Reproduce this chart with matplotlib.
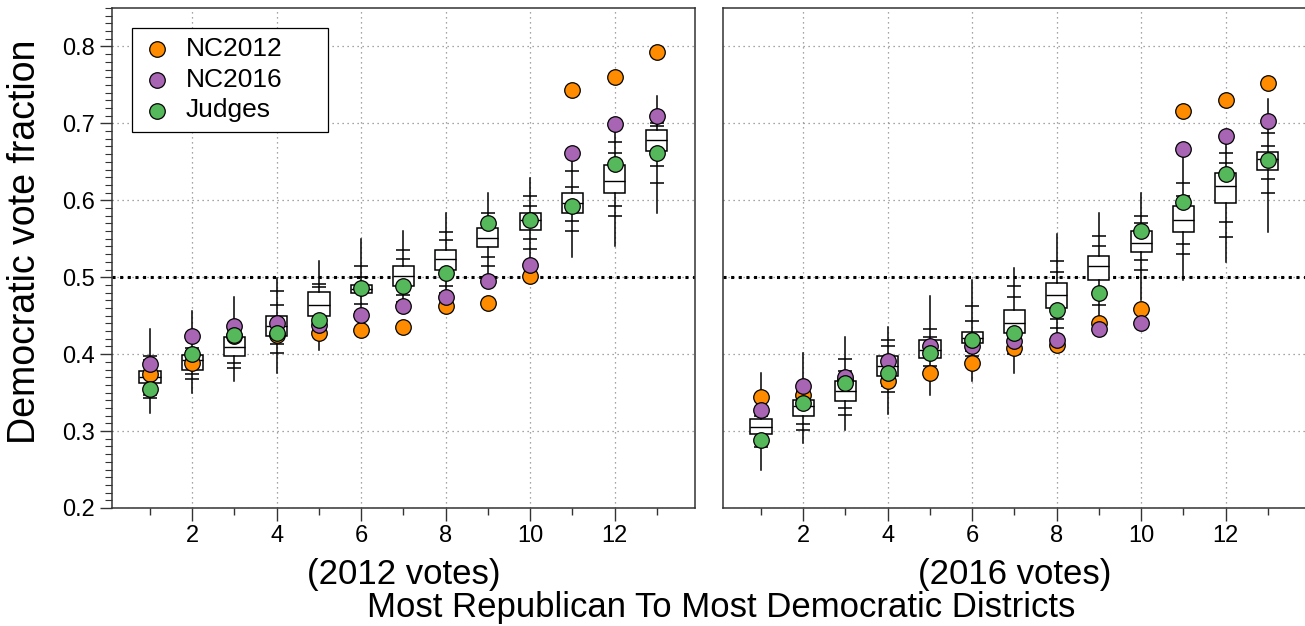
import numpy as np
import matplotlib
matplotlib.use("Agg")
import matplotlib.pyplot as plt
from matplotlib.ticker import MultipleLocator

plt.rcParams['font.family'] = ['Liberation Sans', 'DejaVu Sans']

districts = np.arange(1, 14)

# ensemble boxes, 2012 votes
q1_12 = [0.362, 0.380, 0.398, 0.424, 0.450, 0.479, 0.489, 0.510, 0.539, 0.562, 0.583, 0.609, 0.664]
med_12 = [0.370, 0.393, 0.409, 0.436, 0.464, 0.485, 0.501, 0.524, 0.551, 0.575, 0.596, 0.625, 0.678]
q3_12 = [0.378, 0.399, 0.422, 0.449, 0.481, 0.490, 0.514, 0.536, 0.564, 0.583, 0.610, 0.646, 0.692]
lo_12 = [0.323, 0.349, 0.365, 0.375, 0.405, 0.440, 0.455, 0.460, 0.500, 0.515, 0.526, 0.540, 0.583]
hi_12 = [0.433, 0.456, 0.474, 0.499, 0.521, 0.550, 0.560, 0.584, 0.610, 0.629, 0.655, 0.690, 0.735]
marks_hi_12 = [[0.393, 0.397], [0.404, 0.408], [0.434, 0.424], [0.482, 0.464], [0.491, 0.487],
               [0.514, 0.500], [0.536, 0.524], [0.559, 0.548], [0.583, 0.572], [0.605, 0.593],
               [0.638, 0.617], [0.676, 0.661], [0.700, 0.697]]
marks_lo_12 = [[0.347, 0.343], [0.374, 0.368], [0.388, 0.382], [0.413, 0.402], [0.440, 0.432],
               [0.465, 0.455], [0.477, 0.468], [0.488, 0.480], [0.526, 0.514], [0.550, 0.537],
               [0.573, 0.560], [0.592, 0.579], [0.645, 0.623]]

nc2012_12 = [0.374, 0.389, 0.424, 0.425, 0.427, 0.432, 0.435, 0.462, 0.467, 0.501, 0.744, 0.760, 0.793]
nc2016_12 = [0.387, 0.424, 0.437, 0.440, 0.438, 0.451, 0.463, 0.474, 0.495, 0.516, 0.662, 0.699, 0.710]
judges_12 = [0.355, 0.400, 0.425, 0.427, 0.445, 0.486, 0.488, 0.505, 0.571, 0.575, 0.592, 0.647, 0.661]

# ensemble boxes, 2016 votes
q1_16 = [0.296, 0.319, 0.339, 0.372, 0.395, 0.415, 0.427, 0.460, 0.497, 0.533, 0.559, 0.596, 0.640]
med_16 = [0.305, 0.332, 0.352, 0.384, 0.406, 0.421, 0.441, 0.477, 0.514, 0.545, 0.574, 0.618, 0.654]
q3_16 = [0.316, 0.341, 0.365, 0.398, 0.418, 0.429, 0.458, 0.493, 0.527, 0.560, 0.592, 0.636, 0.663]
lo_16 = [0.250, 0.284, 0.302, 0.322, 0.347, 0.365, 0.376, 0.415, 0.428, 0.471, 0.497, 0.520, 0.559]
hi_16 = [0.375, 0.401, 0.422, 0.435, 0.475, 0.496, 0.512, 0.556, 0.584, 0.610, 0.660, 0.675, 0.732]
marks_hi_16 = [[0.325, 0.320], [0.352, 0.346], [0.394, 0.378], [0.419, 0.410], [0.433, 0.422],
               [0.462, 0.443], [0.489, 0.474], [0.521, 0.507], [0.553, 0.540], [0.579, 0.570],
               [0.622, 0.606], [0.661, 0.648], [0.687, 0.671]]
marks_lo_16 = [[0.284, 0.279], [0.309, 0.302], [0.330, 0.321], [0.358, 0.351], [0.384, 0.374],
               [0.404, 0.398], [0.410, 0.400], [0.446, 0.434], [0.480, 0.464], [0.523, 0.510],
               [0.543, 0.530], [0.572, 0.552], [0.628, 0.609]]

nc2012_16 = [0.344, 0.347, 0.367, 0.365, 0.375, 0.389, 0.408, 0.412, 0.441, 0.459, 0.716, 0.730, 0.753]
nc2016_16 = [0.328, 0.359, 0.370, 0.391, 0.410, 0.411, 0.417, 0.418, 0.433, 0.440, 0.667, 0.683, 0.703]
judges_16 = [0.289, 0.336, 0.363, 0.375, 0.401, 0.419, 0.428, 0.457, 0.480, 0.560, 0.598, 0.634, 0.653]

colors = {'NC2012': '#ff8c00', 'NC2016': '#a765b4', 'Judges': '#55b85a'}

fig = plt.figure(figsize=(13.05, 6.26), dpi=100)
ax1 = fig.add_axes([0.0858, 0.1885, 0.4467, 0.7987])
ax2 = fig.add_axes([0.554, 0.1885, 0.4467, 0.7987])


def draw_panel(ax, q1, med, q3, lo, hi, mhi, mlo, nc12, nc16, judges, label):
    stats = []
    for i in range(len(districts)):
        stats.append(dict(med=med[i], q1=q1[i], q3=q3[i], whislo=lo[i], whishi=hi[i], fliers=[]))
    ax.bxp(stats, positions=districts, widths=0.5, showcaps=False, patch_artist=True,
           boxprops=dict(facecolor='white', edgecolor='black', linewidth=1.1),
           medianprops=dict(color='black', linewidth=1.0),
           whiskerprops=dict(color='black', linewidth=1.1), manage_ticks=False, zorder=3)
    for i, x in enumerate(districts):
        ys = mhi[i] + mlo[i]
        ax.scatter([x] * len(ys), ys, marker='_', s=90, color='black', linewidths=1.1, zorder=3)
    ax.axhline(0.5, color='black', linestyle=(0, (1, 1.5)), linewidth=2.2, zorder=2)
    for name, vals in [('NC2012', nc12), ('NC2016', nc16), ('Judges', judges)]:
        ax.scatter(districts, vals, s=125, color=colors[name], edgecolors='black',
                   linewidths=0.9, zorder=5, label=name)
    ax.set_xlim(0.1, 13.9)
    ax.set_ylim(0.2, 0.85)
    ax.xaxis.set_major_locator(MultipleLocator(2))
    ax.xaxis.set_minor_locator(MultipleLocator(1))
    ax.grid(True, which='major', color='#888888', linestyle=(0, (1, 3)), linewidth=0.9)
    ax.set_axisbelow(True)
    ax.tick_params(axis='x', which='major', direction='out', length=9, width=1, labelsize=17,
                   colors='#333333', labelcolor='black')
    ax.tick_params(axis='x', which='minor', direction='out', length=5, width=1, colors='#333333')
    ax.set_xlabel(label, fontsize=25, labelpad=8)
    for sp in ax.spines.values():
        sp.set_color('#333333')
        sp.set_linewidth(1.1)


draw_panel(ax1, q1_12, med_12, q3_12, lo_12, hi_12, marks_hi_12, marks_lo_12,
           nc2012_12, nc2016_12, judges_12, '(2012 votes)')
draw_panel(ax2, q1_16, med_16, q3_16, lo_16, hi_16, marks_hi_16, marks_lo_16,
           nc2012_16, nc2016_16, judges_16, '(2016 votes)')

ax1.yaxis.set_major_locator(MultipleLocator(0.1))
ax1.yaxis.set_minor_locator(MultipleLocator(0.01))
ax1.tick_params(axis='y', which='major', direction='out', length=9, width=1, labelsize=17,
                colors='#333333', labelcolor='black')
ax1.tick_params(axis='y', which='minor', direction='out', length=5, width=0.8, colors='#333333')
ax1.set_ylabel('Democratic vote fraction', fontsize=27)
ax1.yaxis.set_label_coords(-0.118, 0.532)

ax2.yaxis.set_major_locator(MultipleLocator(0.1))
ax2.tick_params(axis='y', which='both', left=False, labelleft=False)

leg = ax1.legend(loc='upper left', bbox_to_anchor=(0.034, 0.96, 0.336, 0.0), mode='expand',
                 borderaxespad=0, fontsize=19, frameon=True,
                 fancybox=False, edgecolor='black', framealpha=1, handletextpad=0.5,
                 borderpad=0.35, labelspacing=0.25, scatterpoints=1, handlelength=1.2)
leg.get_frame().set_linewidth(0.9)

fig.text(0.553, 0.03, 'Most Republican To Most Democratic Districts', fontsize=25,
         ha='center', va='center')

fig.savefig('out.png', dpi=100)
